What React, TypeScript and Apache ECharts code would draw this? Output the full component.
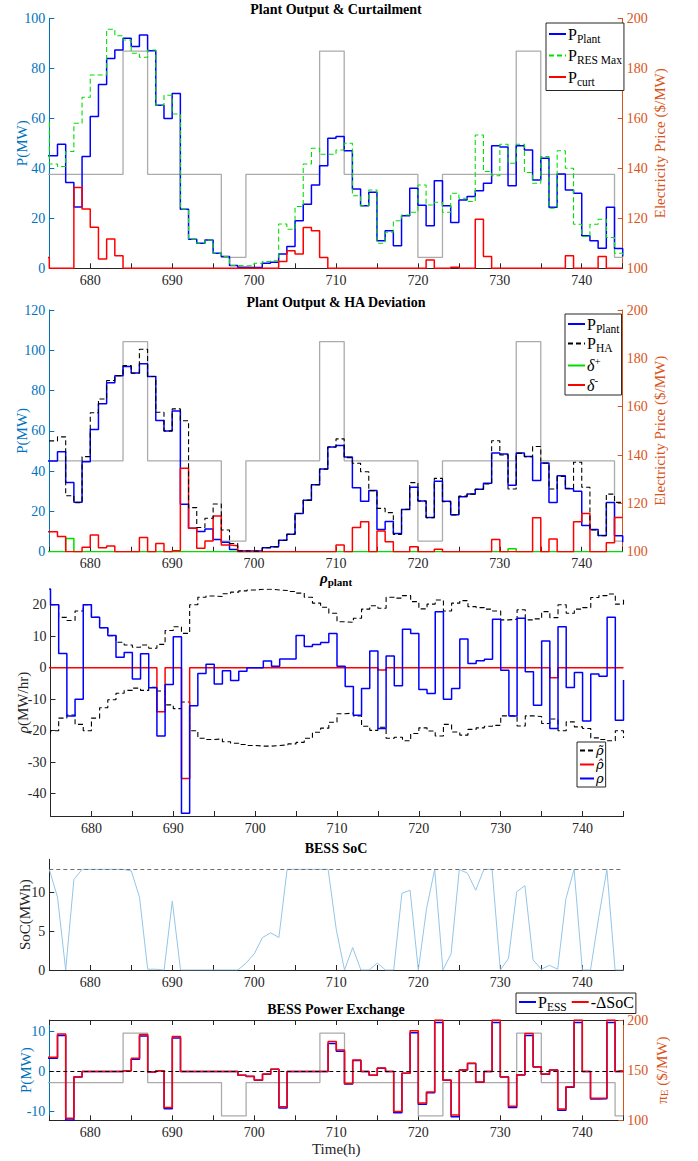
import React, { useEffect, useRef } from 'react';
import * as echarts from 'echarts';

// ---------- axis / time frame ----------
const START_HOUR = 674; // first stair value sits just left of the window (edge steps)
const X_MIN = 675;
const X_MAX = 745;
const X_TICKS = [675, 680, 685, 690, 695, 700, 705, 710, 715, 720, 725, 730, 735, 740, 745];
const X_LABELS = [680, 690, 700, 710, 720, 730, 740];

// ---------- panel 1 & 2 : electricity price ($/MW), 674..745 ----------
const PRICE = [137.6,
  137.6, 137.6, 137.6, 137.6, 137.6,
  137.6, 137.6, 137.6, 137.6, 186.9,
  186.9, 186.9, 137.6, 137.6, 137.6,
  137.6, 137.6, 137.6, 137.6, 137.6,
  137.6, 104.4, 104.4, 104.4, 137.6,
  137.6, 137.6, 137.6, 137.6, 137.6,
  137.6, 137.6, 137.6, 186.9, 186.9,
  186.9, 137.6, 137.6, 137.6, 137.6,
  137.6, 137.6, 137.6, 137.6, 137.6,
  104.4, 104.4, 104.4, 137.6, 137.6,
  137.6, 137.6, 137.6, 137.6, 137.6,
  137.6, 137.6, 186.9, 186.9, 186.9,
  137.6, 137.6, 137.6, 137.6, 137.6,
  137.6, 137.6, 137.6, 137.6, 104.4,
  104.4];

// ---------- panel 1 : plant output & curtailment (MW), 674..745 ----------
const P_PLANT = [45,
  45, 49.6, 34.3, 24.5, 44.7,
  60.7, 73.5, 83.9, 87.3, 92,
  88.7, 93.3, 87, 65.2, 59.9,
  69.9, 23.6, 11.6, 10, 11.3,
  6, 4.7, 1.1, 0.4, 0.3,
  0.3, 2, 2.4, 5.7, 8.7,
  19, 25.6, 33.3, 41, 52,
  52.7, 47, 31.7, 25, 30.4,
  11, 15, 9, 21, 32,
  25.2, 17, 35, 25, 18.3,
  27.3, 28.7, 31, 34, 49,
  48.5, 33, 49, 47.3, 35.3,
  44, 24.4, 37.7, 31.3, 30,
  13, 11, 8, 24.4, 7.9,
  4.7];

const P_RES_MAX = [58.3,
  41.7, 40.7, 46.7, 58, 68.4,
  77.3, 77.3, 95.6, 93, 91.3,
  86, 84.4, 87.3, 65.2, 69.2,
  61.7, 23.6, 11.6, 10, 11.3,
  6, 4.7, 1.1, 1, 1,
  2, 2.7, 3, 17.7, 15.6,
  24.7, 41.7, 48, 45.6, 45.6,
  47.3, 50, 29, 25, 31.3,
  10, 14.4, 19, 21.3, 22.4,
  33.3, 25.3, 26.4, 22.4, 30,
  28, 26.7, 53.3, 38.7, 37,
  49.6, 42, 49.6, 38.3, 34,
  44.7, 24, 47, 40, 17.6,
  12.7, 17.6, 19.6, 12.3, 6,
  4];

const P_CURT = [4.3,
  0, 0, 0, 32.3, 23.7,
  16.4, 3.7, 11.7, 5, 0,
  0, 0, 0, 0, 0,
  0, 0, 0, 0, 0,
  0, 0, 0, 0, 0,
  0, 0, 0, 2.7, 7,
  5.7, 16.3, 15, 4.3, 0,
  0, 0, 0, 0, 0,
  0, 0, 0, 0, 0,
  0, 3.3, 0, 0, 0.4,
  0, 0, 19.6, 4.7, 0,
  0, 0, 0, 0, 0,
  0, 0, 0, 5, 0,
  0, 0, 4.7, 0, 0,
  0];

// ---------- panel 2 : hour-ahead schedule & deviations (MW), 674..745 ----------
const P_HA = [55,
  55, 57, 27.8, 24.3, 47.2,
  69, 75.8, 85, 87.4, 92.4,
  88.6, 100.5, 87, 69.2, 60,
  70.9, 65, 21.9, 12, 16.6,
  23.7, 10.8, 4.1, 0.4, 0.3,
  0.3, 2, 2.4, 5.7, 8.7,
  19, 25.6, 33.3, 41, 52,
  56, 46.7, 43.9, 39.7, 30.3,
  21.5, 19.4, 8.6, 21, 34.3,
  25.2, 16.9, 36.4, 24.8, 18.2,
  27.6, 28.6, 31, 33.6, 55.1,
  48, 31.1, 48.8, 47.2, 52.2,
  43.9, 31.1, 37.3, 31.5, 44.4,
  32, 10.8, 8, 28.6, 24.5,
  24];

const DELTA_PLUS = [0,
  0, 0, 6.6, 0, 0,
  0, 0, 0, 0, 0,
  0, 0, 0, 0, 0,
  0, 0, 0, 0, 0,
  0, 0, 0, 0, 0,
  0, 0, 0, 0, 0,
  0, 0, 0, 0, 0,
  0, 0, 0, 0, 0,
  0, 0, 0, 0, 0,
  0, 0, 0, 0, 0,
  0, 0, 0, 0, 0,
  0, 1.5, 0, 0, 0,
  0, 0, 0, 0, 0,
  0, 0, 0, 0, 0,
  0];

const DELTA_MINUS = [9.9,
  9.9, 7.5, 0, 0, 2.2,
  8.3, 2, 2.8, 0, 0,
  0, 7, 0, 4.1, 0,
  0.5, 41.4, 11.6, 1.7, 5.3,
  17.7, 3.3, 3, 0, 0,
  0, 0, 0, 0, 0,
  0, 0, 0, 0, 0,
  3.3, 0, 12, 14.9, 0,
  10.3, 5, 0, 0, 2.5,
  0, 0, 1.2, 0, 0,
  0, 0, 0, 0, 6.1,
  0, 0, 0, 0, 16.9,
  0, 6.3, 0, 0, 14.9,
  19, 0, 0, 4.5, 17,
  17];

// ---------- panel 3 : ramp rates (MW/hr), 674..745 ----------
const RHO = [25,
  20, 4.5, -15.3, -10, 20,
  16, 12.7, 10.2, 3.3, 4.8,
  -3.6, 4.4, -6.4, -21.7, -5.3,
  9.8, -46.2, -12.1, -1.8, 1.1,
  -5.2, -1, -4.1, -1.1, 0,
  0, 2.1, 0.5, 2.8, 2.8,
  10.2, 6.7, 7.4, 8, 10.9,
  0.5, -6, -15.1, -6.6, 5.3,
  -19.3, 3.7, -5.7, 12.2, 10.9,
  -6.9, -8.2, 17.8, -10, -6.6,
  9.1, 1.3, 2.2, 2.7, 15.4,
  -0.8, -15.3, 15.7, -1.3, -11.9,
  8.5, -19.3, 13, -6.3, -1.5,
  -16.9, -2, -2.7, 16, -16.7,
  -3.9];

const RHO_HAT = [0,
  0, 0, 0, 0, 0,
  0, 0, 0, 0, 0,
  0, 0, 0, -14, 0,
  0, -35.2, 0, 0, 0,
  0, 0, 0, 0, 0,
  0, 0, 0, 0, 0,
  0, 0, 0, 0, 0,
  0, 0, 0, 0, 0,
  -0.7, 0, 0, 0, 0,
  0, 0, 0, 0, 0,
  0, 0, 0, 0, 0,
  0, 0, 0, 0, 0,
  0, -3.2, 0, 0, 0,
  0, 0, 0, 0, 0,
  0];

const RHO_UPPER = [20,
  20, 16, 15, 18, 20,
  16, 12.7, 10.2, 8.1, 7.2,
  6.5, 7.2, 6.2, 7.4, 11.8,
  13, 10.9, 20, 22.4, 22.8,
  22.6, 23.5, 24, 24.4, 24.7,
  24.9, 24.9, 24.7, 24.5, 24.2,
  23.7, 22.4, 20.5, 19.2, 17.3,
  14.6, 14.4, 15.7, 18.6, 19.7,
  18.9, 22.4, 22.1, 22.9, 21,
  18.7, 20.2, 21.5, 18, 20.5,
  21.3, 19.4, 19.1, 18.6, 18,
  15.2, 15.4, 18.4, 15.2, 15.5,
  17.8, 15.9, 20, 17.3, 18.6,
  19.1, 22.3, 22.9, 23.4, 20.2,
  22.4];

const RHO_LOWER = [-21,
  -20, -16, -15, -18, -20,
  -16, -12.7, -10.2, -8.1, -7.2,
  -6.5, -7.2, -6.2, -7.4, -11.8,
  -13, -10.9, -20, -22.4, -22.8,
  -22.6, -23.5, -24, -24.4, -24.7,
  -24.9, -24.9, -24.7, -24.5, -24.2,
  -23.7, -22.4, -20.5, -19.2, -17.3,
  -14.6, -14.4, -15.3, -18.6, -19.9,
  -18.9, -22.4, -22.1, -23.2, -20.9,
  -19.1, -20.1, -21.7, -18, -20.4,
  -21.4, -19.6, -19.1, -18.6, -18.3,
  -15.3, -15.3, -18.5, -15.3, -15.5,
  -17.7, -16.3, -20, -17.2, -18.8,
  -19.3, -22.3, -22.8, -23.2, -20,
  -22.3];

// ---------- panel 4 : BESS state of charge (MWh), hourly points 675..745 ----------
const SOC_HOURS_START = 675;
const SOC = [13, 9.4, 0, 11.7, 13,
  13, 13, 13, 13, 13,
  12.8, 9.4, 0.1, 0.1, 0,
  8.9, 0, 0, 0, 0,
  0, 0, 0, 0, 0.9,
  2.1, 4.2, 4.8, 4.2, 13,
  13, 13, 13, 13, 13,
  5.2, 0, 2.9, 0, 0,
  0.9, 0, 0, 9.9, 10.3,
  0, 7.9, 13, 0, 2.1,
  13, 12.5, 10.3, 13, 13,
  0, 1.5, 10.1, 10.9, 1.3,
  0.1, 0.6, 0.1, 9.2, 13,
  0, 0, 6.8, 13, 0,
  0];
const SOC_MAX = 13;

// ---------- panel 5 : BESS power exchange (MW), 674..745 ----------
const P_ESS = [3.3,
  3.3, 9, -12.1, -1.35, 0,
  0, 0, 0, 0, 0.2,
  3.1, 8.9, -0.1, 0.2, -9.3,
  8.4, 0, 0, 0, 0,
  0, 0, 0, -0.95, -1.25,
  -2.2, -0.65, 0.55, -9.1, 0,
  0, 0, 0, 0, 7,
  5.1, -3.1, 2.75, 0, -0.95,
  0.85, 0, -10.3, -0.4, 9.7,
  -8.2, -5.3, 12.25, -2.2, -11.3,
  0.4, 2, -2.7, 0, 12.25,
  -1.35, -9, -0.85, 9, 1.15,
  -0.65, 0.4, -9.7, -3.9, 12.25,
  0, -6.9, -6.8, 12.25, 0,
  0];

const NEG_DELTA_SOC = [3.6,
  3.6, 9.4, -11.7, -1.3, 0,
  0, 0, 0, 0, 0.2,
  3.3, 9.3, -0.1, 0.2, -9,
  8.8, 0, 0, 0, 0,
  0, 0, 0, -0.9, -1.2,
  -2.1, -0.6, 0.6, -8.8, 0,
  0, 0, 0, 0, 7.5,
  5.4, -3, 2.9, 0, -0.9,
  0.9, 0, -10, -0.4, 10.2,
  -7.9, -5.1, 12.9, -2.1, -10.9,
  0.4, 2.1, -2.6, 0, 12.9,
  -1.3, -8.7, -0.8, 9.5, 1.2,
  -0.6, 0.4, -9.4, -3.8, 12.9,
  0, -6.7, -6.6, 12.9, 0,
  0];

// ---------- tick sets ----------
const P1_LEFT_TICKS = [0, 20, 40, 60, 80, 100];
const PRICE_TICKS_20 = [100, 120, 140, 160, 180, 200];
const P2_LEFT_TICKS = [0, 20, 40, 60, 80, 100, 120];
const RHO_TICKS = [-40, -30, -20, -10, 0, 10, 20];
const SOC_TICKS = [0, 5, 10];
const P5_LEFT_TICKS = [-10, 0, 10];
const PRICE_TICKS_50 = [100, 150, 200];

// ---------- styling ----------
const SERIF = '"Liberation Serif", "Times New Roman", serif';
const GREEK = '"DejaVu Serif", "Liberation Serif", serif';
const AX_BLUE = '#0072BD';
const AX_ORANGE = '#D95319';
const DARK = '#262626';
const PRICE_GRAY = '#ABABAB';

const stairs = (arr: number[]) => arr.map((v, i) => [START_HOUR + i, v]);

const LEGEND_TEXT: Record<string, string> = {
  'P_Plant': '{m|P}{s|Plant}',
  'P_RES Max': '{m|P}{s|RES Max}',
  'P_curt': '{m|P}{s|curt}',
  'P_Plant (HA)': '{m|P}{s|Plant}',
  'P_HA': '{m|P}{s|HA}',
  'δ+': '{i|δ}{p|+}',
  'δ-': '{i|δ}{p|-}',
  'ρ̃': '{k|ρ\u0303}',
  'ρ̂': '{k|ρ\u0302}',
  'ρ': '{k|ρ}',
  'P_ESS': '{m|P}{s|ESS}',
  '-ΔSoC': '{m|-ΔSoC}',
};

const RICH = {
  m: { fontSize: 16, fontFamily: SERIF, lineHeight: 21, color: '#000' },
  s: { fontSize: 11.5, fontFamily: SERIF, lineHeight: 12, verticalAlign: 'bottom', color: '#000' },
  i: { fontSize: 16, fontFamily: SERIF, fontStyle: 'italic', lineHeight: 21, color: '#000' },
  p: { fontSize: 11, fontFamily: SERIF, lineHeight: 11, verticalAlign: 'top', color: '#000' },
  k: { fontSize: 13, fontFamily: GREEK, fontStyle: 'italic', lineHeight: 15, color: '#000' },
};

const GRIDS = [
  { left: 49.3, top: 18.3, width: 573.4, height: 250 },
  { left: 49.3, top: 310, width: 573.4, height: 241.7 },
  { left: 50.5, top: 589, width: 573, height: 227 },
  { left: 49.3, top: 859.3, width: 574, height: 110.7 },
  { left: 49.3, top: 1020, width: 574, height: 100.3 },
];

function xAxisBottom(gi: number, extra: any = {}) {
  return {
    type: 'value', gridIndex: gi, min: X_MIN, max: X_MAX, position: 'bottom',
    axisLine: { show: true, onZero: false, lineStyle: { color: DARK, width: 1 } },
    axisTick: { show: true, inside: true, length: 5, customValues: X_TICKS, lineStyle: { color: DARK } },
    axisLabel: { show: true, customValues: X_LABELS, margin: 5, color: DARK, fontSize: 14, fontFamily: SERIF },
    splitLine: { show: false },
    ...extra,
  };
}

function yAxisCfg(gi: number, pos: string, min: number, max: number, ticks: number[], color: string,
  name: string, gap: number, rich?: any) {
  return {
    type: 'value', gridIndex: gi, position: pos, min, max,
    axisLine: { show: true, onZero: false, lineStyle: { color, width: 1 } },
    axisTick: { show: true, inside: true, length: 5, customValues: ticks, lineStyle: { color } },
    axisLabel: { show: true, customValues: ticks, margin: 4, color, fontSize: 14, fontFamily: SERIF },
    splitLine: { show: false },
    name, nameLocation: 'middle', nameGap: gap, nameRotate: 90, nameMoveOverlap: false,
    nameTextStyle: { color, fontSize: 15, fontFamily: SERIF, rich },
  };
}

function stairSeries(name: string, arr: number[], xi: number, yi: number, color: string, width: number,
  type: any = 'solid', z = 3) {
  return {
    type: 'line', name, xAxisIndex: xi, yAxisIndex: yi, data: stairs(arr), step: 'end',
    symbol: 'none', showSymbol: false, silent: true, clip: true, z,
    lineStyle: { color, width, type }, itemStyle: { color },
  };
}

function legendCfg(data: string[], left: number, top: number, orient: string, extra: any = {}) {
  return {
    data, left, top, orient, show: true,
    backgroundColor: '#fff', borderColor: DARK, borderWidth: 1, borderRadius: 0,
    padding: [2, 3, 2, 2], itemGap: 2, itemWidth: 17, itemHeight: 12,
    itemStyle: { opacity: 0 },
    selectedMode: false,
    formatter: (n: string) => LEGEND_TEXT[n] || n,
    textStyle: { rich: RICH, fontFamily: SERIF, color: '#000', padding: [0, 0, 0, -3] },
    ...extra,
  };
}

function buildOption(): any {
  const titleStyle = (text: string, y: number, rich?: any) => ({
    type: 'text', x: 336, y,
    style: { text, fontSize: 14, fontWeight: 'bold', fontFamily: SERIF, fill: '#000', align: 'center', verticalAlign: 'middle', rich },
  });

  return {
    animation: false,
    backgroundColor: '#fff',
    grid: GRIDS.map((g) => ({ ...g, containLabel: false })),
    xAxis: [
      xAxisBottom(0),
      xAxisBottom(1),
      xAxisBottom(2),
      xAxisBottom(3),
      xAxisBottom(4, { name: 'Time(h)', nameLocation: 'middle', nameGap: 21, nameMoveOverlap: false, nameTextStyle: { color: DARK, fontSize: 15, fontFamily: SERIF } }),
      {
        type: 'value', gridIndex: 4, min: X_MIN, max: X_MAX, position: 'top',
        axisLine: { show: true, onZero: false, lineStyle: { color: DARK, width: 1 } },
        axisTick: { show: true, inside: true, length: 5, customValues: X_TICKS, lineStyle: { color: DARK } },
        axisLabel: { show: false }, splitLine: { show: false },
      },
    ],
    yAxis: [
      yAxisCfg(0, 'left', 0, 100, P1_LEFT_TICKS, AX_BLUE, 'P(MW)', 20),
      yAxisCfg(0, 'right', 100, 200, PRICE_TICKS_20, AX_ORANGE, 'Electricity Price ($/MW)', 30),
      yAxisCfg(1, 'left', 0, 120, P2_LEFT_TICKS, AX_BLUE, 'P(MW)', 20),
      yAxisCfg(1, 'right', 100, 200, PRICE_TICKS_20, AX_ORANGE, 'Electricity Price ($/MW)', 30),
      yAxisCfg(2, 'left', -47.1, 25, RHO_TICKS, DARK, '{i|ρ}(MW/hr)', 20,
        { i: { fontStyle: 'italic', fontSize: 15, fontFamily: SERIF, color: DARK } }),
      yAxisCfg(3, 'left', 0, 14.3, SOC_TICKS, DARK, 'SoC(MWh)', 17),
      yAxisCfg(4, 'left', -12.2, 12.9, P5_LEFT_TICKS, AX_BLUE, 'P(MW)', 16),
      yAxisCfg(4, 'right', 100, 200, PRICE_TICKS_50, AX_ORANGE, 'π{e|E} ($/MW)', 31,
        { e: { fontSize: 11, fontFamily: SERIF, color: AX_ORANGE, verticalAlign: 'bottom', lineHeight: 11 } }),
    ],
    legend: [
      legendCfg(['P_Plant', 'P_RES Max', 'P_curt'], 546, 23, 'vertical', { padding: [3, 2, 3, 2], itemGap: 3 }),
      legendCfg(['P_Plant (HA)', 'P_HA', 'δ+', 'δ-'], 565, 314, 'vertical', { padding: [2, 2, 2, 2], itemGap: 1 }),
      legendCfg(['ρ̃', 'ρ̂', 'ρ'], 577, 742, 'vertical', { itemWidth: 14, padding: [2, 2, 2, 2], itemGap: 1 }),
      legendCfg(['P_ESS', '-ΔSoC'], 516, 993, 'horizontal', { itemGap: 4, padding: [1, 2, 1, 2] }),
    ],
    graphic: [
      titleStyle('Plant Output & Curtailment', 9),
      titleStyle('Plant Output & HA Deviation', 302),
      titleStyle('{r|ρ}{s|plant}', 578, {
        r: { fontSize: 15, fontStyle: 'italic', fontWeight: 'bold', fontFamily: SERIF, fill: '#000', lineHeight: 18 },
        s: { fontSize: 11, fontWeight: 'bold', fontFamily: SERIF, fill: '#000', lineHeight: 11, verticalAlign: 'bottom' },
      }),
      titleStyle('BESS SoC', 848),
      titleStyle('BESS Power Exchange', 1009),
    ],
    series: [
      // panel 1
      stairSeries('Price 1', PRICE, 0, 1, PRICE_GRAY, 1.3, 'solid', 2),
      stairSeries('P_Plant', P_PLANT, 0, 0, '#0000FF', 1.5),
      stairSeries('P_RES Max', P_RES_MAX, 0, 0, '#00E000', 1.1, [5, 3], 4),
      stairSeries('P_curt', P_CURT, 0, 0, '#FF0000', 1.5),
      // panel 2
      stairSeries('Price 2', PRICE, 1, 3, PRICE_GRAY, 1.3, 'solid', 2),
      stairSeries('P_Plant (HA)', P_PLANT, 1, 2, '#0000FF', 1.5),
      stairSeries('P_HA', P_HA, 1, 2, '#000000', 1.1, [5, 3], 4),
      stairSeries('δ+', DELTA_PLUS, 1, 2, '#00DD00', 1.5),
      stairSeries('δ-', DELTA_MINUS, 1, 2, '#FF0000', 1.5),
      // panel 3
      stairSeries('ρ̃', RHO_UPPER, 2, 4, '#000000', 1.1, [5, 3]),
      stairSeries('ρ̃ lower', RHO_LOWER, 2, 4, '#000000', 1.1, [5, 3]),
      stairSeries('ρ̂', RHO_HAT, 2, 4, '#FF0000', 1.5, 'solid', 3),
      stairSeries('ρ', RHO, 2, 4, '#0000FF', 1.5, 'solid', 4),
      // panel 4
      {
        type: 'line', name: 'SoC', xAxisIndex: 3, yAxisIndex: 5, silent: true,
        data: SOC.map((v, i) => [SOC_HOURS_START + i, v]),
        symbol: 'none', showSymbol: false, lineStyle: { color: '#93C6E8', width: 1 }, itemStyle: { color: '#93C6E8' },
        markLine: {
          silent: true, symbol: 'none', label: { show: false },
          lineStyle: { color: '#6E6E6E', type: [4, 3], width: 1 },
          data: [{ yAxis: SOC_MAX }],
        },
      },
      // panel 5
      stairSeries('Price 5', PRICE, 4, 7, PRICE_GRAY, 1.3, 'solid', 2),
      stairSeries('P_ESS', P_ESS, 4, 6, '#0000FF', 1.5, 'solid', 3),
      {
        ...stairSeries('-ΔSoC', NEG_DELTA_SOC, 4, 6, '#FF0000', 1.5, 'solid', 4),
        markLine: {
          silent: true, symbol: 'none', label: { show: false },
          lineStyle: { color: '#000', type: [4, 3], width: 1 },
          data: [{ yAxis: 0 }],
        },
      },
    ],
  };
}

export default function App() {
  const ref = useRef<HTMLDivElement>(null);
  useEffect(() => {
    document.body.style.margin = '0';
    if (!ref.current) return;
    const chart = echarts.init(ref.current, undefined, { renderer: 'svg' });
    chart.setOption(buildOption());
    return () => chart.dispose();
  }, []);
  return <div ref={ref} style={{ width: 698, height: 1161 }} />;
}
